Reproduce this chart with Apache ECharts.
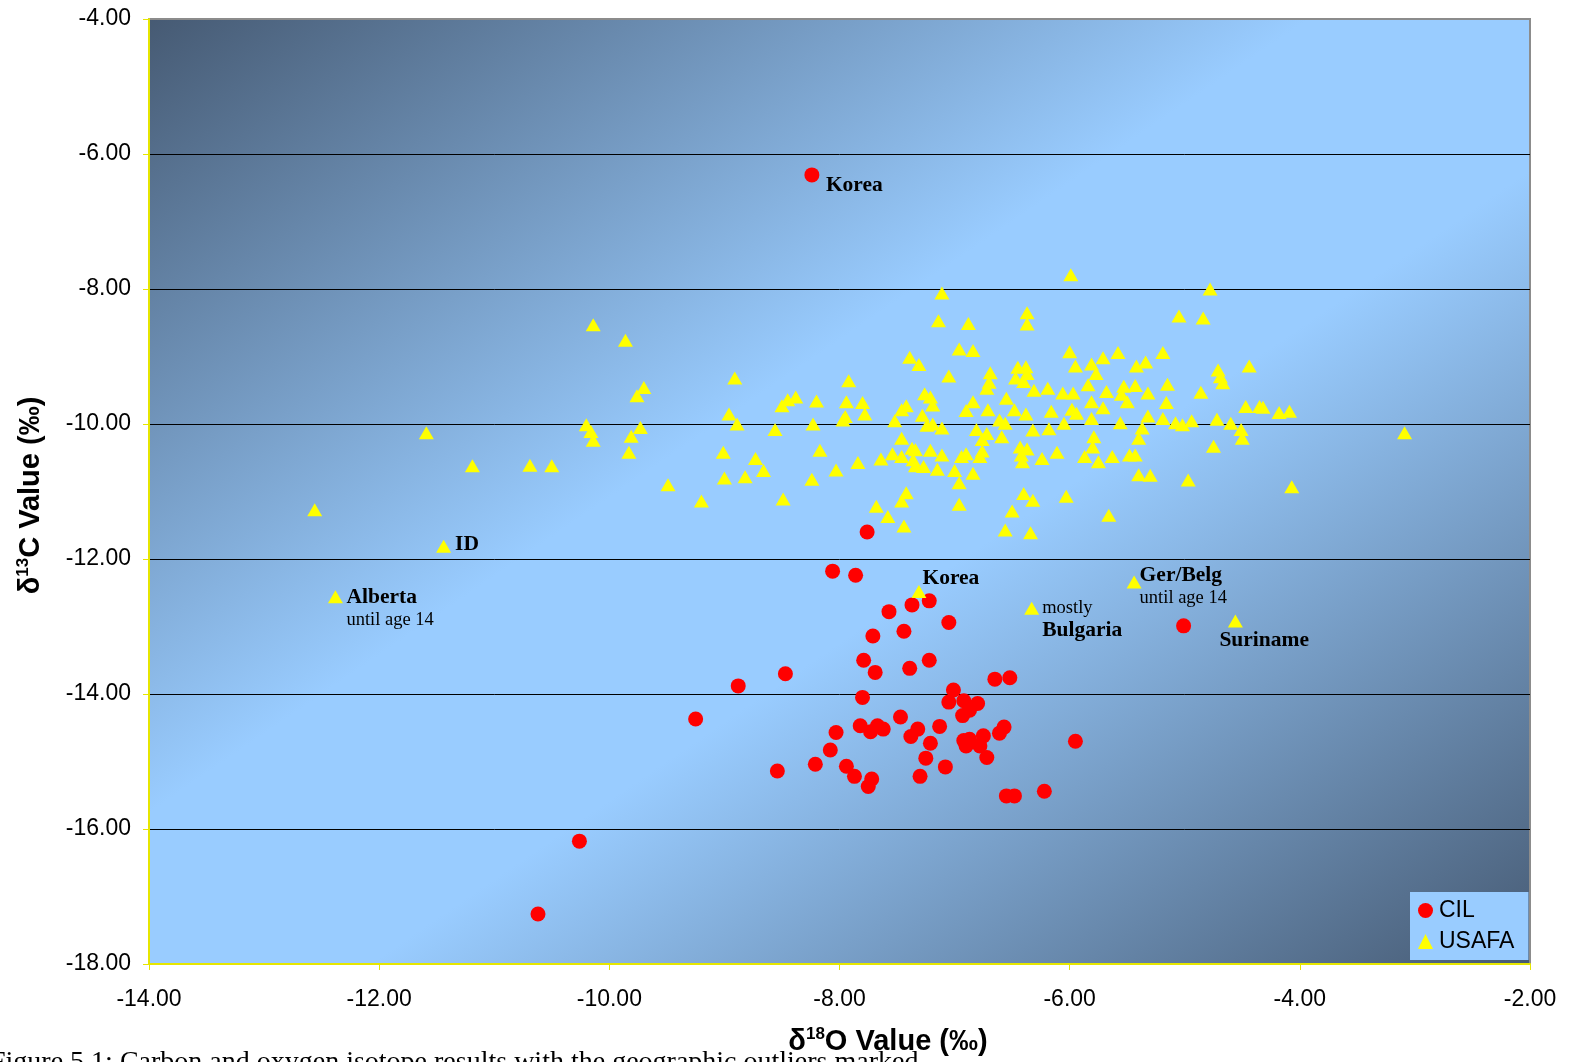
<!DOCTYPE html>
<html>
<head>
<meta charset="utf-8">
<title>Carbon and oxygen isotope results</title>
<script src="https://cdn.jsdelivr.net/npm/echarts@6/dist/echarts.min.js"></script>
<style>
  html, body { margin: 0; padding: 0; background: #ffffff; }
  #chart { width: 1574px; height: 1062px; }
</style>
</head>
<body>
<div id="chart"></div>
<script>
// δ18O (x) and δ13C (y) values, ‰
const cilPoints = [
  [-7.76,-11.60],[-8.06,-12.18],[-7.86,-12.24],[-7.37,-12.68],[-7.22,-12.62],
  [-7.57,-12.78],[-7.05,-12.94],[-7.71,-13.14],[-7.44,-13.07],[-7.79,-13.50],
  [-7.69,-13.68],[-7.39,-13.62],[-7.22,-13.50],[-8.47,-13.70],[-8.88,-13.88],
  [-9.25,-14.37],[-7.80,-14.05],[-6.65,-13.78],[-6.52,-13.76],[-7.01,-13.94],
  [-7.05,-14.12],[-6.92,-14.10],[-6.80,-14.14],[-6.87,-14.24],[-6.93,-14.32],
  [-7.47,-14.34],[-7.82,-14.47],[-7.67,-14.47],[-7.62,-14.52],[-7.73,-14.56],
  [-7.32,-14.52],[-7.38,-14.63],[-7.13,-14.48],[-8.03,-14.57],[-7.21,-14.73],
  [-6.92,-14.69],[-6.87,-14.67],[-6.90,-14.77],[-6.75,-14.62],[-6.78,-14.77],
  [-6.57,-14.49],[-6.61,-14.58],[-6.72,-14.94],[-7.25,-14.95],[-7.08,-15.08],
  [-8.08,-14.83],[-8.21,-15.04],[-8.54,-15.14],[-7.94,-15.07],[-7.87,-15.22],
  [-7.72,-15.26],[-7.75,-15.37],[-7.30,-15.22],[-6.55,-15.51],[-6.48,-15.51],
  [-5.01,-12.99],[-5.95,-14.70],[-6.22,-15.44],[-10.26,-16.18],[-10.62,-17.26]
];

const usafaPoints = [
  [-12.56,-11.27],[-11.59,-10.13],[-11.19,-10.62],[-10.69,-10.61],[-10.50,-10.62],
  [-10.14,-8.53],[-10.20,-10.01],[-10.16,-10.11],[-10.14,-10.24],[-9.86,-8.76],
  [-9.70,-9.46],[-9.76,-9.58],[-9.73,-10.05],[-9.81,-10.18],[-9.83,-10.42],
  [-9.49,-10.90],[-9.20,-11.14],[-8.91,-9.32],[-8.96,-9.85],[-8.89,-10.00],
  [-9.01,-10.42],[-8.73,-10.51],[-8.66,-10.69],[-9.00,-10.80],[-8.82,-10.78],
  [-8.49,-11.11],[-8.56,-10.08],[-8.50,-9.73],[-8.45,-9.64],[-8.38,-9.60],
  [-8.20,-9.66],[-8.23,-10.00],[-8.17,-10.39],[-8.24,-10.82],[-8.03,-10.68],
  [-7.84,-10.57],[-7.92,-9.36],[-7.94,-9.67],[-7.80,-9.68],[-7.95,-9.89],
  [-7.97,-9.94],[-7.78,-9.85],[-7.68,-11.22],[-7.58,-11.37],[-7.44,-11.51],
  [-7.42,-11.02],[-7.46,-11.14],[-7.64,-10.52],[-7.54,-10.44],[-7.46,-10.21],
  [-7.46,-10.48],[-7.37,-10.36],[-7.34,-10.38],[-7.36,-10.53],[-7.34,-10.62],
  [-7.27,-10.63],[-7.21,-10.39],[-7.15,-10.67],[-7.11,-10.46],[-7.52,-9.95],
  [-7.46,-9.79],[-7.42,-9.73],[-7.28,-9.87],[-7.26,-9.55],[-7.21,-9.60],
  [-7.19,-9.72],[-7.24,-10.02],[-7.19,-10.00],[-7.11,-10.06],[-7.11,-8.06],
  [-7.14,-8.47],[-6.88,-8.51],[-6.96,-8.89],[-6.84,-8.91],[-7.39,-9.01],
  [-7.31,-9.12],[-7.05,-9.29],[-6.69,-9.24],[-6.72,-9.47],[-6.70,-9.38],
  [-6.84,-9.67],[-6.90,-9.80],[-6.71,-9.79],[-6.81,-10.08],[-6.72,-10.14],
  [-6.76,-10.23],[-6.61,-9.94],[-6.59,-10.19],[-6.96,-11.19],[-6.96,-10.87],
  [-7.00,-10.69],[-6.84,-10.73],[-6.94,-10.48],[-6.90,-10.44],[-6.76,-10.40],
  [-6.78,-10.48],[-5.99,-7.79],[-4.78,-8.00],[-6.37,-8.35],[-6.37,-8.52],
  [-5.05,-8.40],[-4.84,-8.43],[-6.00,-8.93],[-5.95,-9.14],[-5.81,-9.11],
  [-5.71,-9.02],[-5.58,-8.94],[-5.19,-8.94],[-5.42,-9.14],[-5.34,-9.08],
  [-5.77,-9.25],[-6.45,-9.16],[-6.38,-9.15],[-6.37,-9.25],[-6.47,-9.32],
  [-6.40,-9.37],[-6.31,-9.50],[-6.19,-9.47],[-6.06,-9.54],[-5.97,-9.54],
  [-5.84,-9.42],[-5.68,-9.52],[-5.53,-9.44],[-5.55,-9.56],[-5.43,-9.43],
  [-5.32,-9.54],[-5.50,-9.67],[-5.15,-9.41],[-5.16,-9.68],[-4.86,-9.53],
  [-4.71,-9.20],[-4.69,-9.30],[-4.67,-9.39],[-4.44,-9.14],[-4.47,-9.74],
  [-4.35,-9.74],[-4.32,-9.75],[-4.18,-9.83],[-4.09,-9.81],[-6.55,-9.62],
  [-6.56,-9.99],[-6.48,-9.79],[-6.38,-9.85],[-6.16,-9.81],[-5.98,-9.78],
  [-5.94,-9.84],[-5.81,-9.67],[-5.71,-9.76],[-5.81,-9.92],[-6.05,-9.99],
  [-6.18,-10.07],[-6.32,-10.09],[-5.56,-9.98],[-5.32,-9.88],[-5.37,-10.06],
  [-5.40,-10.21],[-5.19,-9.92],[-5.08,-9.98],[-5.02,-10.01],[-4.94,-9.95],
  [-4.72,-9.93],[-4.60,-9.99],[-4.51,-10.08],[-4.50,-10.21],[-4.75,-10.33],
  [-6.43,-10.34],[-6.37,-10.37],[-6.42,-10.46],[-6.41,-10.56],[-6.24,-10.51],
  [-6.11,-10.42],[-5.79,-10.19],[-5.80,-10.34],[-5.87,-10.48],[-5.75,-10.56],
  [-5.63,-10.48],[-5.48,-10.46],[-5.43,-10.46],[-5.40,-10.75],[-5.30,-10.76],
  [-4.97,-10.83],[-4.07,-10.93],[-6.40,-11.03],[-6.32,-11.13],[-6.03,-11.07],
  [-6.50,-11.29],[-5.66,-11.35],[-6.56,-11.57],[-6.34,-11.61],[-3.09,-10.13]
];

// Named samples (origin notes)
const namedPoints = [
  { id: 'korea-cil',   set: 'CIL',   at: [-8.24, -6.31],  title: 'Korea',    note: '' },
  { id: 'id',          set: 'USAFA', at: [-11.44, -11.81], title: 'ID',       note: '' },
  { id: 'alberta',     set: 'USAFA', at: [-12.38, -12.56], title: 'Alberta',  note: 'until age 14' },
  { id: 'korea-usafa', set: 'USAFA', at: [-7.31, -12.48],  title: 'Korea',    note: '' },
  { id: 'bulgaria',    set: 'USAFA', at: [-6.33, -12.73],  title: 'Bulgaria', note: 'mostly' },
  { id: 'gerbelg',     set: 'USAFA', at: [-5.44, -12.34],  title: 'Ger/Belg', note: 'until age 14' },
  { id: 'suriname',    set: 'USAFA', at: [-4.56, -12.92],  title: 'Suriname', note: '' }
];

const xTicks = { min: -14, max: -2, step: 2 };
const yTicks = { min: -18, max: -4, step: 2 };

// ---- layout & style ----
const SANS = "'Liberation Sans', Arial, Helvetica, sans-serif";
const SERIF = "'Liberation Serif', 'Times New Roman', Times, serif";
const GRID = { left: 149, top: 19, width: 1381, height: 945 };
const AXIS_YELLOW = '#e6e600';
const TICK_FONT = 23;

// label offsets for named samples: [dx, dy] from the right side of the marker, and note order
const notePlacement = {
  'korea-cil':   { offset: [1.5, 11],  noteFirst: false },
  'id':          { offset: [-1, -2],   noteFirst: false },
  'alberta':     { offset: [-1.5, 12], noteFirst: false },
  'korea-usafa': { offset: [-9, -13],  noteFirst: false },
  'bulgaria':    { offset: [-2, 11],   noteFirst: true },
  'gerbelg':     { offset: [-7, 5],    noteFirst: false },
  'suriname':    { offset: [-28.5, 19], noteFirst: false }
};

const labelRich = {
  b: { fontFamily: SERIF, fontWeight: 'bold', fontSize: 21.5, color: '#000', lineHeight: 23 },
  r: { fontFamily: SERIF, fontWeight: 'normal', fontSize: 18.5, color: '#000', lineHeight: 23 }
};

function buildData(points, setName) {
  const data = points.map(p => ({ value: p }));
  namedPoints.filter(n => n.set === setName).forEach(n => {
    const pl = notePlacement[n.id];
    let text = '{b|' + n.title + '}';
    if (n.note) {
      text = pl.noteFirst ? '{r|' + n.note + '}\n' + text : text + '\n{r|' + n.note + '}';
    }
    data.push({
      value: n.at,
      label: {
        show: true,
        position: 'right',
        distance: 5,
        offset: pl.offset,
        formatter: text,
        align: 'left',
        rich: labelRich
      }
    });
  });
  return data;
}

const chart = echarts.init(document.getElementById('chart'), null, { renderer: 'canvas' });

// plot-area background: diagonal blend, light across the anti-diagonal, darker toward two corners
const bgSide = GRID.height;
const background = {
  type: 'group',
  x: GRID.left,
  y: GRID.top,
  scaleX: GRID.width / bgSide,
  scaleY: 1,
  silent: true,
  z: -5,
  children: [{
    type: 'rect',
    z: -5,
    shape: { x: 0, y: 0, width: bgSide, height: bgSide },
    style: {
      fill: new echarts.graphic.LinearGradient(0, 0, 1, 1, [
        { offset: 0, color: '#465a73' },
        { offset: 0.42, color: '#99ccff' },
        { offset: 0.58, color: '#99ccff' },
        { offset: 1, color: '#465a73' }
      ])
    }
  }]
};

const caption = {
  type: 'text',
  left: -10,
  top: 1049,
  silent: true,
  z: -5,
  style: {
    text: 'Figure 5.1: Carbon and oxygen isotope results with the geographic outliers marked.',
    font: '28px ' + SERIF,
    fill: '#000'
  }
};

const titleRich = {
  t: { fontFamily: SANS, fontWeight: 'bold', fontSize: 29, color: '#000', lineHeight: 31 },
  s: { fontFamily: SANS, fontWeight: 'bold', fontSize: 17, color: '#000', verticalAlign: 'top', lineHeight: 31 }
};

const option = {
  backgroundColor: '#ffffff',
  animation: false,
  graphic: [background, caption],
  grid: {
    left: GRID.left,
    top: GRID.top,
    width: GRID.width,
    height: GRID.height,
    show: true,
    backgroundColor: 'transparent',
    borderColor: '#8c8c8c',
    borderWidth: 2,
    containLabel: false
  },
  legend: {
    orient: 'vertical',
    left: 1410,
    top: 892,
    backgroundColor: '#99ccff',
    padding: [7, 14, 7, 8],
    itemGap: 8,
    itemWidth: 15,
    itemHeight: 15,
    textStyle: { fontFamily: SANS, fontSize: TICK_FONT, color: '#000', padding: [0, 0, 0, 1] },
    data: ['CIL', 'USAFA']
  },
  xAxis: {
    type: 'value',
    min: xTicks.min,
    max: xTicks.max,
    interval: xTicks.step,
    name: '{t|δ}{s|18}{t|O Value (‰)}',
    nameLocation: 'middle',
    nameGap: 62,
    nameTextStyle: { padding: [0, 0, 0, 97], rich: titleRich },
    axisLine: { show: true, onZero: false, lineStyle: { color: AXIS_YELLOW, width: 2 } },
    axisTick: { show: true, inside: false, length: 6, lineStyle: { color: AXIS_YELLOW, width: 1 } },
    splitLine: { show: false },
    axisLabel: {
      margin: 24,
      fontFamily: SANS,
      fontSize: TICK_FONT,
      color: '#000',
      formatter: v => v.toFixed(2)
    }
  },
  yAxis: {
    type: 'value',
    min: yTicks.min,
    max: yTicks.max,
    interval: yTicks.step,
    name: '{t|δ}{s|13}{t|C Value (‰)}',
    nameLocation: 'middle',
    nameRotate: 90,
    nameGap: 103,
    nameTextStyle: { padding: [0, 8, 0, 0], rich: titleRich },
    axisLine: { show: true, onZero: false, lineStyle: { color: AXIS_YELLOW, width: 2 } },
    axisTick: { show: true, inside: false, length: 6, lineStyle: { color: AXIS_YELLOW, width: 1 } },
    splitLine: {
      show: true,
      showMinLine: false,
      showMaxLine: false,
      lineStyle: { color: '#000000', width: 1 }
    },
    axisLabel: {
      margin: 18,
      fontFamily: SANS,
      fontSize: TICK_FONT,
      color: '#000',
      formatter: v => v.toFixed(2)
    }
  },
  series: [
    {
      name: 'CIL',
      type: 'scatter',
      symbol: 'circle',
      symbolSize: 15,
      itemStyle: { color: '#ff0000', opacity: 1 },
      emphasis: { disabled: true },
      data: buildData(cilPoints, 'CIL')
    },
    {
      name: 'USAFA',
      type: 'scatter',
      symbol: 'triangle',
      symbolSize: [15, 13],
      itemStyle: { color: '#ffff00', opacity: 1 },
      emphasis: { disabled: true },
      data: buildData(usafaPoints, 'USAFA')
    }
  ]
};

chart.setOption(option);
</script>
</body>
</html>
